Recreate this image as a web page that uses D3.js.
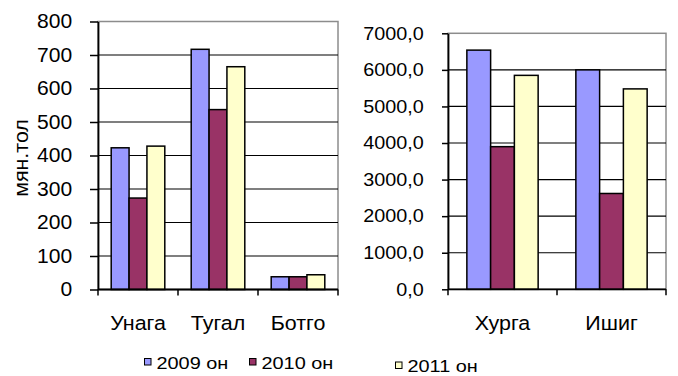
<!DOCTYPE html>
<html><head><meta charset="utf-8">
<script src="https://cdn.jsdelivr.net/npm/d3@7"></script>
<style>
html,body{margin:0;padding:0;background:#fff;}
svg{display:block;font-family:"Liberation Sans",Arial,sans-serif;}
</style></head>
<body>
<svg id="c" width="678" height="376"></svg>
<script>
const seriesNames = ["2009 он", "2010 он", "2011 он"];
const seriesColors = ["#9999FF", "#993366", "#FFFFCC"];

const categoriesA = ["Унага", "Тугал", "Ботго"];
const valuesA2009 = [423, 717, 38];
const valuesA2010 = [273, 537, 38];
const valuesA2011 = [428, 665, 44];
const ticksA = [0, 100, 200, 300, 400, 500, 600, 700, 800];

const categoriesB = ["Хурга", "Ишиг"];
const valuesB2009 = [6540, 6000];
const valuesB2010 = [3900, 2620];
const valuesB2011 = [5850, 5480];
const ticksB = [0, 1000, 2000, 3000, 4000, 5000, 6000, 7000];

const yTitle = "мян.тол";

const svg = d3.select("#c");

function panel(cfg) {
  const {left, right, top, bottom, cats, vals, ticks, fmt, pad, tickFs, tickSx, tickLen} = cfg;
  const g = svg.append("g");
  const x0 = d3.scaleBand().domain(cats).range([left, right]).paddingInner(pad).paddingOuter(pad / 2);
  const x1 = d3.scaleBand().domain(seriesNames).range([0, x0.bandwidth()]);
  const y = d3.scaleLinear().domain([0, ticks[ticks.length - 1]]).range([bottom, top]);

  g.append("rect").attr("x", left).attr("y", top).attr("width", right - left).attr("height", bottom - top)
    .attr("fill", "none").attr("stroke", "#8c8c8c").attr("stroke-width", 1.5);

  g.append("g").selectAll("line").data(ticks.slice(1, -1)).join("line")
    .attr("x1", left).attr("x2", right).attr("y1", d => y(d)).attr("y2", d => y(d))
    .attr("stroke", "#000").attr("stroke-width", 1.2);

  const rows = cats.map((c, i) => ({c, v: vals.map(s => s[i])}));
  const grp = g.append("g").selectAll("g").data(rows).join("g")
    .attr("transform", d => `translate(${x0(d.c)},0)`);
  grp.selectAll("rect").data(d => d.v.map((v, k) => ({v, k}))).join("rect")
    .attr("x", d => x1(seriesNames[d.k])).attr("width", x1.bandwidth())
    .attr("y", d => y(d.v)).attr("height", d => bottom - y(d.v))
    .attr("fill", d => seriesColors[d.k]).attr("stroke", "#000").attr("stroke-width", 1.5);

  const ya = g.append("g").attr("transform", `translate(${left},0)`)
    .call(d3.axisLeft(y).tickValues(ticks).tickFormat(fmt).tickSize(tickLen).tickPadding(16).tickSizeOuter(0));
  ya.select(".domain").attr("stroke", "#000").attr("stroke-width", 1.8);
  ya.selectAll(".tick line").attr("stroke", "#000").attr("stroke-width", 1.5);
  ya.selectAll(".tick text").attr("font-size", tickFs).attr("fill", "#000")
    .attr("font-family", "Liberation Sans, Arial, sans-serif")
    .attr("transform", `scale(${tickSx},1)`);

  const bounds = cats.map(c => x0(c) - x0.step() * pad / 2).concat([right]);
  g.append("line").attr("x1", left).attr("x2", right).attr("y1", bottom).attr("y2", bottom)
    .attr("stroke", "#000").attr("stroke-width", 1.8);
  g.append("g").selectAll("line").data(bounds).join("line")
    .attr("x1", d => d).attr("x2", d => d).attr("y1", bottom).attr("y2", bottom + 6)
    .attr("stroke", "#000").attr("stroke-width", 1.5);
  g.append("g").selectAll("text").data(cats).join("text")
    .attr("transform", d => `translate(${x0(d) + x0.bandwidth() / 2},329.5) scale(1.1,1)`)
    .attr("text-anchor", "middle").attr("font-size", 19.5).attr("fill", "#000").text(d => d);
  return g;
}

panel({left: 98, right: 338, top: 21.5, bottom: 289.5, cats: categoriesA,
  vals: [valuesA2009, valuesA2010, valuesA2011], ticks: ticksA, fmt: d3.format("d"),
  pad: 0.33, tickFs: 19.5, tickSx: 1.08, tickLen: 8});

panel({left: 448, right: 666, top: 33.3, bottom: 289.3, cats: categoriesB,
  vals: [valuesB2009, valuesB2010, valuesB2011], ticks: ticksB,
  fmt: d => d3.format(".1f")(d).replace(".", ","),
  pad: 0.346, tickFs: 18, tickSx: 1.1, tickLen: 6});

svg.append("text").attr("transform", "translate(28,158) rotate(-90) scale(1.1,1)")
  .attr("text-anchor", "middle").attr("font-size", 19.5).attr("fill", "#000").text(yTitle);

const legendPos = [{x: 144, y: 358.5}, {x: 249, y: 358.5}, {x: 395, y: 362}];
const lg = svg.append("g").selectAll("g").data(seriesNames).join("g")
  .attr("transform", (d, i) => `translate(${legendPos[i].x},${legendPos[i].y})`);
lg.append("rect").attr("x", 0.5).attr("y", 0).attr("width", 6.5).attr("height", 6.5)
  .attr("fill", (d, i) => seriesColors[i]).attr("stroke", "#000").attr("stroke-width", 1);
lg.append("text").attr("transform", "translate(12.5,10.2) scale(1.17,1)")
  .attr("font-size", 17).attr("fill", "#000").text(d => d);
</script>
</body></html>
